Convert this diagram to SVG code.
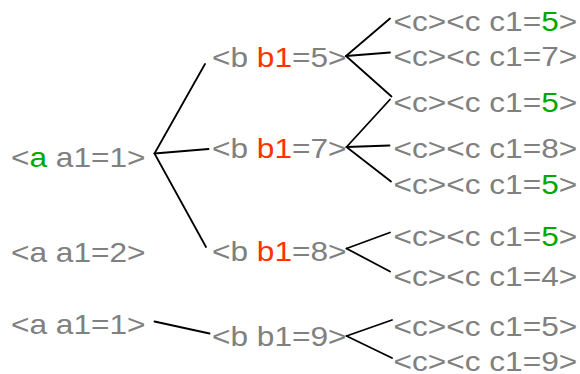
<svg xmlns="http://www.w3.org/2000/svg" width="580" height="374" viewBox="0 0 580 374">
<style>
text{font-family:"Liberation Sans",Arial,Helvetica,sans-serif;font-size:28px;fill:#808080}
.r{fill:#ff3300}
.g{fill:#00a800}
.e{stroke:#000;stroke-width:1.8;fill:none;stroke-linecap:round}
</style>
<rect width="580" height="374" fill="#fff"/>
<g id="connectors">
<line class="e" x1="154.5" y1="153.5" x2="205" y2="64"/>
<line class="e" x1="154.5" y1="153.5" x2="208.5" y2="149"/>
<line class="e" x1="154.5" y1="153.5" x2="206" y2="247"/>
<line class="e" x1="154.5" y1="321.5" x2="209.5" y2="333.5"/>
<line class="e" x1="346" y1="56" x2="390" y2="18.5"/>
<line class="e" x1="346" y1="56" x2="390" y2="52.5"/>
<line class="e" x1="346" y1="56" x2="391.5" y2="96.5"/>
<line class="e" x1="346.5" y1="147" x2="390" y2="99.5"/>
<line class="e" x1="346.5" y1="147" x2="389.5" y2="145.5"/>
<line class="e" x1="346.5" y1="147" x2="391" y2="181.5"/>
<line class="e" x1="346.5" y1="248.5" x2="390" y2="232.5"/>
<line class="e" x1="346.5" y1="248.5" x2="390" y2="271.5"/>
<line class="e" x1="346.5" y1="336" x2="392" y2="320"/>
<line class="e" x1="346.5" y1="336" x2="392" y2="358"/>
</g>
<g id="a1"><text transform="translate(11,167) scale(1.13,1)">&lt;<tspan class="g">a</tspan> a1=1&gt;</text></g>
<g id="a2"><text transform="translate(11,262) scale(1.13,1)">&lt;a a1=2&gt;</text></g>
<g id="a3"><text transform="translate(11,334) scale(1.13,1)">&lt;a a1=1&gt;</text></g>
<g id="b5"><text transform="translate(212,66.5) scale(1.13,1)">&lt;b <tspan class="r">b1</tspan>=5&gt;</text></g>
<g id="b7"><text transform="translate(212,158) scale(1.13,1)">&lt;b <tspan class="r">b1</tspan>=7&gt;</text></g>
<g id="b8"><text transform="translate(212,261) scale(1.13,1)">&lt;b <tspan class="r">b1</tspan>=8&gt;</text></g>
<g id="b9"><text transform="translate(212,346) scale(1.13,1)">&lt;b b1=9&gt;</text></g>
<g id="c1"><text transform="translate(393.5,31) scale(1.13,1)">&lt;c&gt;&lt;c c1=<tspan class="g">5</tspan>&gt;</text></g>
<g id="c2"><text transform="translate(393.5,66) scale(1.13,1)">&lt;c&gt;&lt;c c1=7&gt;</text></g>
<g id="c3"><text transform="translate(393.5,112) scale(1.13,1)">&lt;c&gt;&lt;c c1=<tspan class="g">5</tspan>&gt;</text></g>
<g id="c4"><text transform="translate(393.5,158) scale(1.13,1)">&lt;c&gt;&lt;c c1=8&gt;</text></g>
<g id="c5"><text transform="translate(393.5,194) scale(1.13,1)">&lt;c&gt;&lt;c c1=<tspan class="g">5</tspan>&gt;</text></g>
<g id="c6"><text transform="translate(393.5,246) scale(1.13,1)">&lt;c&gt;&lt;c c1=<tspan class="g">5</tspan>&gt;</text></g>
<g id="c7"><text transform="translate(393.5,286) scale(1.13,1)">&lt;c&gt;&lt;c c1=4&gt;</text></g>
<g id="c8"><text transform="translate(393.5,336) scale(1.13,1)">&lt;c&gt;&lt;c c1=5&gt;</text></g>
<g id="c9"><text transform="translate(393.5,370.5) scale(1.13,1)">&lt;c&gt;&lt;c c1=9&gt;</text></g>
</svg>
